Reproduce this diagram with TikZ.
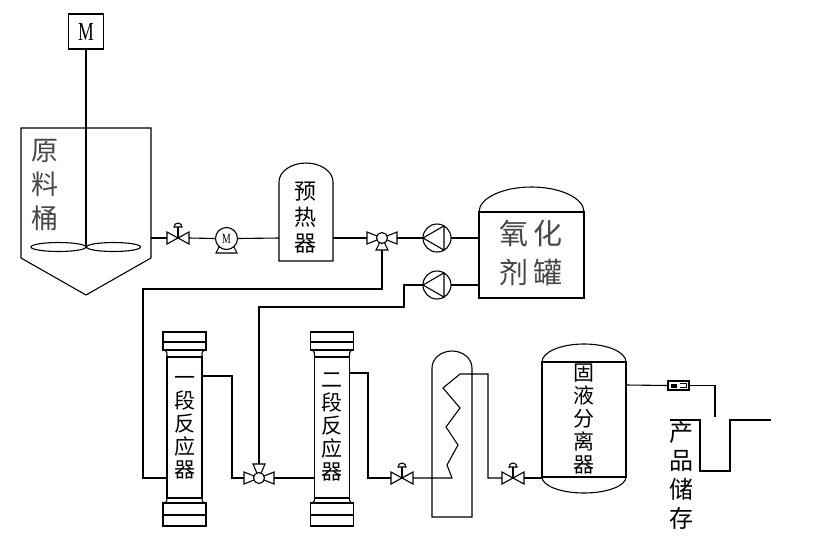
\documentclass[tikz,border=0pt]{standalone}
\usepackage{fontspec}
\setmainfont{Liberation Serif}
\newfontfamily\cjk{Noto Sans CJK SC}
\tikzset{
  globevalve/.pic={
    \draw (-11,-6) -- (-11,6) -- (11,-6) -- (11,6) -- cycle;
    \draw (0,0) -- (0,-11);
    \draw (-4,-11) arc[start angle=180,end angle=360,radius=4] -- cycle;
    \coordinate (-W) at (-11,0);
    \coordinate (-E) at (11,0);
  },
  threeway/.pic={
    \draw (-15,-6) -- (-15,6) -- (15,-6) -- (15,6) -- cycle;
    \draw (-6,#1) -- (6,#1) -- (0,0) -- cycle;
    \filldraw[fill=white] (0,0) circle (5.5);
    \coordinate (-W) at (-15,0);
    \coordinate (-E) at (15,0);
    \coordinate (-T) at (0,#1);
  },
  rotpump/.pic={
    \draw (0,0) circle (14);
    \draw (-14,0) -- (7,-12.12) -- (7,12.12) -- cycle;
    \coordinate (-W) at (-14,0);
    \coordinate (-E) at (14,0);
  },
  reactor/.pic={
    \draw (-17.5,357) rectangle (17.5,498);
    \draw (-21.5,332) rectangle (21.5,350);
    \draw (-21.5,342) -- (21.5,342);
    \draw (-19.5,350) .. controls (-17.5,352) .. (-17.5,357);
    \draw (19.5,350) .. controls (17.5,352) .. (17.5,357);
    \draw (-17.5,498) .. controls (-17.5,501) .. (-19.5,503);
    \draw (17.5,498) .. controls (17.5,501) .. (19.5,503);
    \draw (-21.5,503) rectangle (21.5,526);
    \draw (-21.5,515) -- (21.5,515);
  },
  lbl/.style={align=center, inner sep=0pt},
  lightlbl/.style={align=center, inner sep=0pt, text=black!72},
}
\begin{document}
\begin{tikzpicture}[x=1pt,y=-1pt,line width=1.1pt]
\useasboundingbox (0,0) rectangle (819,544);
\fill[white] (0,0) rectangle (819,544);

% ---- raw material tank with stirrer
\node[draw, minimum width=35pt, minimum height=35pt, inner sep=0pt] (motor) at (86,31.5)
  {\fontsize{26}{26}\selectfont\scalebox{0.68}[1]{M}};
\draw (21,128) -- (151,128) -- (151,258) -- (86,295) -- (21,258) -- cycle;
\coordinate (shaftEnd) at (86,247);
\draw (motor.south) -- (shaftEnd);
\draw (58.5,247) ellipse[x radius=27.5,y radius=4.5];
\draw (113.5,247) ellipse[x radius=27,y radius=4.5];
\node[lightlbl, font=\cjk\fontsize{27}{34}\selectfont] (tankA) at (45,185) {原\\料\\桶};
\coordinate (tankOut) at (151,238);

% ---- feed valve and metering pump
\pic (vA) at (178,238) {globevalve};
\draw (216,253) -- (219,247) -- (234,247) -- (237,253) -- cycle;
\node[draw, circle, fill=white, minimum size=22pt, inner sep=0pt] (pm) at (226.5,238.5)
  {\fontsize{14}{14}\selectfont\scalebox{0.7}[1]{M}};
\draw (tankOut) -- (vA-W);
\draw (vA-E) -- (pm.west);

% ---- preheater
\draw (279,261) -- (279,182) arc[start angle=180,end angle=360,x radius=27,y radius=19] -- (333,261) -- cycle;
\coordinate (phIn) at (279,238);
\coordinate (phOut) at (333,238);
\node[lbl, font=\cjk\fontsize{22}{26}\selectfont] (phT) at (305,218) {预\\热\\器};
\draw (pm.east) -- (phIn);

% ---- three-way valve, pumps, oxidant tank
\pic (tvA) at (382,238) {threeway=12};
\draw (phOut) -- (tvA-W);
\pic (p1) at (437,238) {rotpump};
\pic (p2) at (437,285) {rotpump};
\draw (479,212) rectangle (584,298);
\draw (479,212) arc[start angle=180,end angle=360,x radius=52.5,y radius=25];
\coordinate (oxIn1) at (479,238);
\coordinate (oxIn2) at (479,285);
\node[lightlbl, font=\cjk\fontsize{29}{29}\selectfont] (oxT1) at (531,233) {氧\hspace{5pt}化};
\node[lightlbl, font=\cjk\fontsize{29}{29}\selectfont] (oxT2) at (531,272) {剂\hspace{5pt}罐};
\draw (tvA-E) -- (p1-W);
\draw (p1-E) -- (oxIn1);
\draw (p2-E) -- (oxIn2);

% ---- reactors
\pic (r1) at (184.5,0) {reactor};
\pic (r2) at (332,0) {reactor};
\node[lbl, font=\cjk\fontsize{21}{23}\selectfont] (r1T) at (184.5,427.5) {一\\段\\反\\应\\器};
\node[lbl, font=\cjk\fontsize{21}{23}\selectfont] (r2T) at (332,427.5) {二\\段\\反\\应\\器};
\coordinate (r1In) at (167,478);
\coordinate (r1Out) at (202,376);
\coordinate (r2In) at (314.5,478);
\coordinate (r2Out) at (349.5,373);
\pic (tvB) at (259,478) {threeway=-14};

\draw (tvA-T) -- (382,289) -- (143,289) -- (143,478) -- (r1In);
\draw (p2-W) -- (404,285) -- (404,307) -- (259,307) -- (tvB-T);
\draw (r1Out) -- (232,376) -- (232,478) -- (tvB-W);
\draw (tvB-E) -- (r2In);

% ---- heat exchanger
\draw (432,368) -- (432,517) -- (472,517) -- (472,368) arc[start angle=0,end angle=-180,x radius=20,y radius=17];
\pic (vB) at (402,478) {globevalve};
\pic (vC) at (513,478) {globevalve};
\draw (r2Out) -- (368,373) -- (368,478) -- (vB-W);
\draw (vB-E) -- (452,478) -- (447,465) -- (458,445) -- (446,427) -- (460,408) -- (443,388) -- (460,374)
  -- (488,374) -- (488,478) -- (vC-W);

% ---- solid-liquid separator
\draw (542,362) rectangle (626,477);
\draw (542,362) arc[start angle=180,end angle=360,x radius=42,y radius=18];
\draw (542,477) arc[start angle=180,end angle=0,x radius=42,y radius=16];
\coordinate (sepIn) at (542,478);
\coordinate (sepOut) at (626,385);
\node[lbl, font=\cjk\fontsize{21}{23}\selectfont] (sepT) at (584,419) {固\\液\\分\\离\\器};
\draw (vC-E) -- (sepIn);

% ---- filter and product storage
\draw (668,381) rectangle (689,390);
\fill (671,383.5) rectangle (677,387.5);
\draw[line width=0.9pt] (680,383.5) -- (686,383.5) -- (686,387.5) -- (680,387.5);
\coordinate (fIn) at (668,385.5);
\coordinate (fOut) at (689,385.5);
\coordinate (dropEnd) at (715,417);
\draw (sepOut) -- (fIn);
\draw (fOut) -- (715,385.5) -- (dropEnd);
\draw (670,420) -- (700,420) -- (700,471) -- (730,471) -- (730,420) -- (771,420);
\node[lbl, font=\cjk\fontsize{24}{28.7}\selectfont] (prodT) at (681,475) {产\\品\\储\\存};
\end{tikzpicture}
\end{document}
